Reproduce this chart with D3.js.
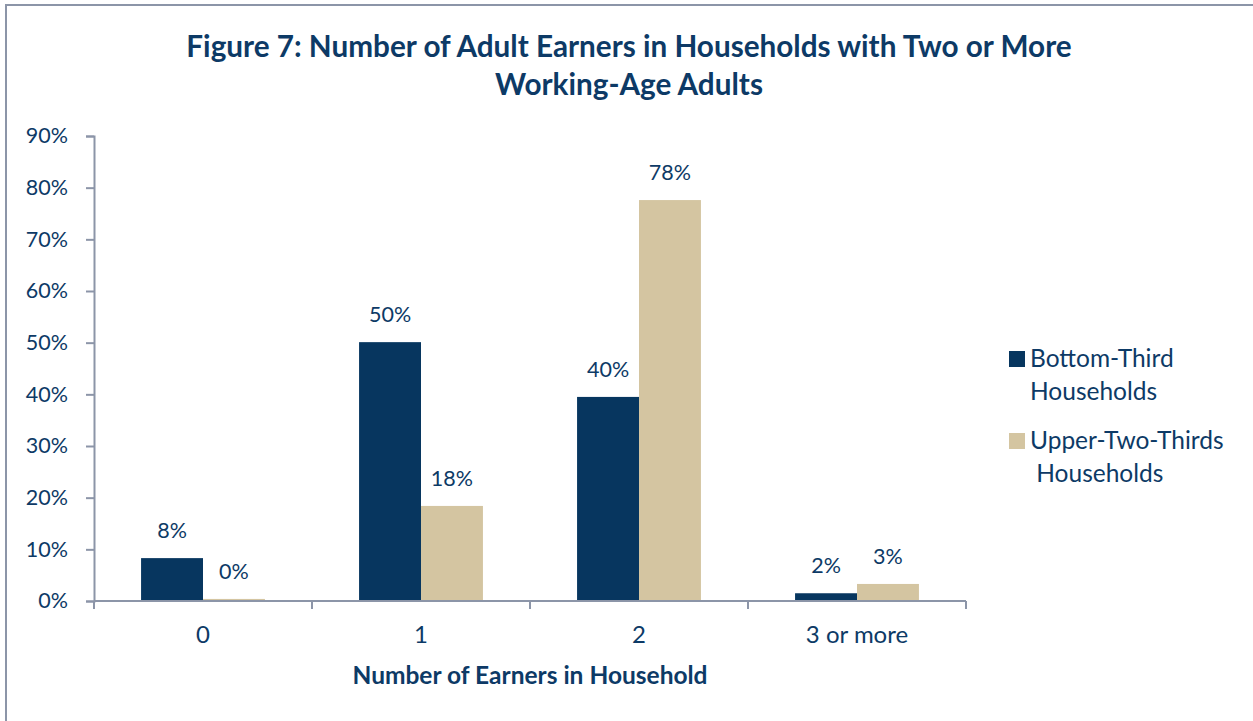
<!DOCTYPE html>
<html>
<head>
<meta charset="utf-8">
<script src="https://cdn.jsdelivr.net/npm/d3@7"></script>
<style>
  body { margin: 0; background: #fff; }
  svg text { font-family: Lato, "Open Sans", sans-serif; fill: #0d3a66; }
</style>
</head>
<body>
<div id="chart"></div>
<script>
// Data
var categories = ["0", "1", "2", "3 or more"];
var seriesNames = ["Bottom-Third Households", "Upper-Two-Thirds Households"];
var bottomThird = [8.3, 50.1, 39.5, 1.5];
var upperTwoThirds = [0.4, 18.4, 77.6, 3.3];
var bottomLabels = ["8%", "50%", "40%", "2%"];
var upperLabels = ["0%", "18%", "78%", "3%"];
var yTicks = [0, 10, 20, 30, 40, 50, 60, 70, 80, 90];

var colors = ["#07365f", "#d4c5a1"];
var axisColor = "#8c95a8";

var width = 1253, height = 721;
var margin = {left: 94, top: 136, right: 287, bottom: 120};

var svg = d3.select("#chart").append("svg")
    .attr("width", width)
    .attr("height", height);

// Outer chart frame (only top and left edges are visible)
svg.append("path")
    .attr("d", "M6,725 V5 H1260")
    .attr("fill", "none")
    .attr("stroke", axisColor)
    .attr("stroke-width", 2);

// Title
var title = svg.append("text")
    .attr("text-anchor", "middle")
    .attr("font-weight", "bold")
    .attr("font-size", 29.7);
title.append("tspan").attr("x", 629).attr("y", 57)
    .text("Figure 7: Number of Adult Earners in Households with Two or More");
title.append("tspan").attr("x", 629).attr("y", 95)
    .text("Working-Age Adults");

var x = d3.scaleBand()
    .domain(categories)
    .range([margin.left, width - margin.right])
    .paddingInner(0)
    .paddingOuter(0);

var y = d3.scaleLinear()
    .domain([0, 90])
    .range([601, margin.top]);

var bx = d3.scaleBand()
    .domain([0, 1])
    .range([0, x.bandwidth()])
    .paddingOuter(0.76)
    .paddingInner(0);

// Y axis
var yAxis = svg.append("g")
    .attr("transform", "translate(" + margin.left + ",0)")
    .call(d3.axisLeft(y).tickValues(yTicks).tickSize(8).tickPadding(18)
        .tickFormat(function(d) { return d + "%"; }));
yAxis.select(".domain").attr("stroke", axisColor).attr("stroke-width", 2);
yAxis.selectAll(".tick line").attr("stroke", axisColor).attr("stroke-width", 2);
yAxis.selectAll(".tick text")
    .attr("font-size", 21.5)
    .attr("fill", "#0d3a66")
    .attr("font-family", "Lato, 'Open Sans', sans-serif");

// Bars
var data = categories.map(function(c, i) {
    return {cat: c, vals: [bottomThird[i], upperTwoThirds[i]], labels: [bottomLabels[i], upperLabels[i]]};
});

var groups = svg.selectAll(".group")
    .data(data)
    .enter().append("g")
    .attr("class", "group")
    .attr("transform", function(d) { return "translate(" + x(d.cat) + ",0)"; });

groups.selectAll("rect")
    .data(function(d) { return d.vals; })
    .enter().append("rect")
    .attr("x", function(d, i) { return bx(i); })
    .attr("y", function(d) { return y(d); })
    .attr("width", bx.bandwidth())
    .attr("height", function(d) { return y(0) - y(d); })
    .attr("fill", function(d, i) { return colors[i]; });

groups.selectAll(".lbl")
    .data(function(d) { return d.vals.map(function(v, i) { return {v: v, t: d.labels[i]}; }); })
    .enter().append("text")
    .attr("class", "lbl")
    .attr("x", function(d, i) { return bx(i) + bx.bandwidth() / 2; })
    .attr("y", function(d) { return y(d.v) - 20; })
    .attr("text-anchor", "middle")
    .attr("font-size", 21.5)
    .text(function(d) { return d.t; });

// X axis with ticks between categories
var xAxis = svg.append("g")
    .attr("transform", "translate(0,601)");
xAxis.append("line")
    .attr("x1", margin.left).attr("x2", width - margin.right)
    .attr("stroke", axisColor).attr("stroke-width", 2);
var edges = categories.map(function(c) { return x(c); }).concat([x.range()[1]]);
xAxis.selectAll(".xt")
    .data(edges)
    .enter().append("line")
    .attr("class", "xt")
    .attr("x1", function(d) { return d; }).attr("x2", function(d) { return d; })
    .attr("y1", 0).attr("y2", 8)
    .attr("stroke", axisColor).attr("stroke-width", 2);
xAxis.selectAll(".xl")
    .data(categories)
    .enter().append("text")
    .attr("class", "xl")
    .attr("x", function(d) { return x(d) + x.bandwidth() / 2; })
    .attr("y", 42)
    .attr("text-anchor", "middle")
    .attr("font-size", 24)
    .text(function(d) { return d; });

// X axis title
svg.append("text")
    .attr("x", (margin.left + width - margin.right) / 2)
    .attr("y", 684)
    .attr("text-anchor", "middle")
    .attr("font-weight", "bold")
    .attr("font-size", 24.5)
    .text("Number of Earners in Household");

// Legend
var legendLines = [["Bottom-Third", "Households"], ["Upper-Two-Thirds", " Households"]];
var legend = svg.selectAll(".legend")
    .data(seriesNames)
    .enter().append("g")
    .attr("class", "legend")
    .attr("transform", function(d, i) { return "translate(1009," + (351 + i * 82) + ")"; });
legend.append("rect")
    .attr("width", 16).attr("height", 16)
    .attr("fill", function(d, i) { return colors[i]; });
legend.append("text")
    .attr("font-size", 24.5)
    .attr("xml:space", "preserve")
    .style("white-space", "pre")
    .each(function(d, i) {
        var t = d3.select(this);
        legendLines[i].forEach(function(line, j) {
            t.append("tspan").attr("x", 21).attr("y", 16 + j * 33).text(line);
        });
    });
</script>
</body>
</html>
